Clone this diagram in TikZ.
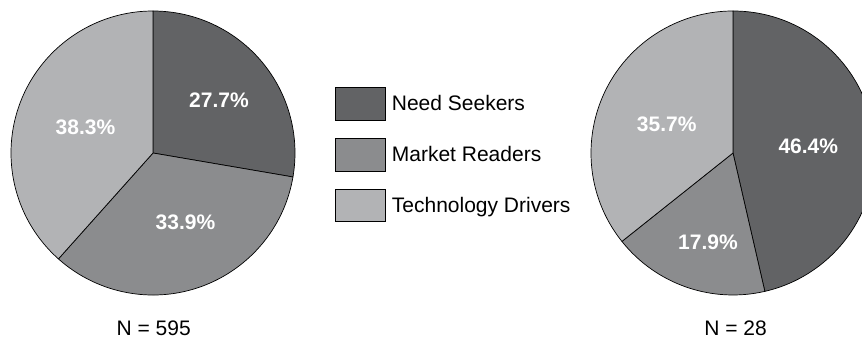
\documentclass[tikz,border=0pt]{standalone}
\usepackage{fontspec}
\setmainfont{Liberation Sans}
\definecolor{nsc}{HTML}{626365}
\definecolor{mrc}{HTML}{8B8C8E}
\definecolor{tdc}{HTML}{B2B3B5}
\begin{document}
\begin{tikzpicture}[x=1pt,y=1pt,
  slice/.style={draw=black,line width=0.7pt,line join=round},
  pct/.style={text=white,font=\fontsize{21}{24}\selectfont\bfseries,inner sep=0pt,anchor=base},
  lbl/.style={text=black,font=\fontsize{21}{24}\selectfont,inner sep=0pt,anchor=base},
  legbox/.style={draw=black,line width=0.6pt},
  legtext/.style={text=black,font=\fontsize{21}{24}\selectfont,inner sep=0pt,anchor=base west}]
\useasboundingbox (0,0) rectangle (862,339);
\def\R{142}
% left pie
\coordinate (c1) at (153,186);
\filldraw[slice,fill=nsc] (c1) -- ++(90:\R) arc (90:-9.72:\R) -- cycle;
\filldraw[slice,fill=mrc] (c1) -- ++(-9.72:\R) arc (-9.72:-131.76:\R) -- cycle;
\filldraw[slice,fill=tdc] (c1) -- ++(-131.76:\R) arc (-131.76:-270:\R) -- cycle;
\node[pct] (l1) at (219,231.7) {27.7\%};
\node[pct] (l2) at (185.5,109.7) {33.9\%};
\node[pct] (l3) at (85.5,204) {38.3\%};
\node[lbl] (n1) at (153.7,3.5) {N = 595};
% right pie
\coordinate (c2) at (733,186);
\filldraw[slice,fill=nsc] (c2) -- ++(90:\R) arc (90:-77.04:\R) -- cycle;
\filldraw[slice,fill=mrc] (c2) -- ++(-77.04:\R) arc (-77.04:-141.48:\R) -- cycle;
\filldraw[slice,fill=tdc] (c2) -- ++(-141.48:\R) arc (-141.48:-270:\R) -- cycle;
\node[pct] (r1) at (808.3,185.7) {46.4\%};
\node[pct] (r2) at (708,89.7) {17.9\%};
\node[pct] (r3) at (666.7,207.3) {35.7\%};
\node[lbl] (n2) at (735.5,3.5) {N = 28};
% legend
\filldraw[legbox,fill=nsc] (335,218.7) rectangle (385,251.7);
\filldraw[legbox,fill=mrc] (335,167.3) rectangle (385,200.7);
\filldraw[legbox,fill=tdc] (335,117.3) rectangle (385,150);
\node[legtext] (t1) at (391.7,228.3) {Need Seekers};
\node[legtext] (t2) at (391.7,177.3) {Market Readers};
\node[legtext] (t3) at (391.7,126.3) {Technology Drivers};
\end{tikzpicture}
\end{document}
